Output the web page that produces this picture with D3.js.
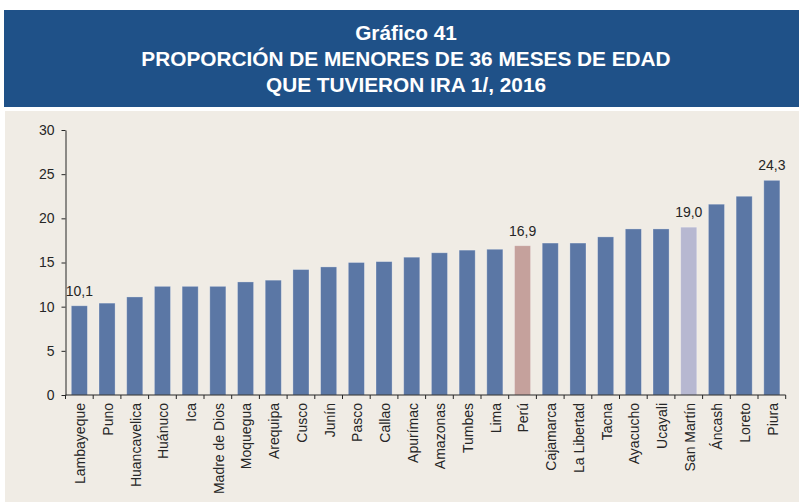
<!DOCTYPE html>
<html>
<head>
<meta charset="utf-8">
<script src="https://cdn.jsdelivr.net/npm/d3@7/dist/d3.min.js"></script>
<style>
  html, body { margin: 0; padding: 0; background: #ffffff; }
  svg { display: block; font-family: "Liberation Sans", Arial, sans-serif; }
</style>
</head>
<body>
<svg id="chart" width="799" height="503"></svg>
<script>
// Regiones ordenadas de menor a mayor proporción (%)
const regiones = ["Lambayeque", "Puno", "Huancavelica", "Huánuco", "Ica", "Madre de Dios",
  "Moquegua", "Arequipa", "Cusco", "Junín", "Pasco", "Callao", "Apurímac", "Amazonas",
  "Tumbes", "Lima", "Perú", "Cajamarca", "La Libertad", "Tacna", "Ayacucho", "Ucayali",
  "San Martín", "Áncash", "Loreto", "Piura"];
const valores = [10.1, 10.4, 11.1, 12.3, 12.3, 12.3, 12.8, 13.0, 14.2, 14.5, 15.0, 15.1,
  15.6, 16.1, 16.4, 16.5, 16.9, 17.2, 17.2, 17.9, 18.8, 18.8, 19.0, 21.6, 22.5, 24.3];
const etiquetadas = ["Lambayeque", "Perú", "San Martín", "Piura"];
const yTicks = [0, 5, 10, 15, 20, 25, 30];
const titulo = ["Gráfico 41", "PROPORCIÓN DE MENORES DE 36 MESES DE EDAD", "QUE TUVIERON IRA 1/, 2016"];

const data = regiones.map((r, i) => ({ region: r, valor: valores[i] }));

const svg = d3.select("#chart");

// Franja del título
svg.append("rect").attr("x", 4).attr("y", 10).attr("width", 795).attr("height", 97)
  .attr("fill", "#1f5188");
svg.append("g").selectAll("text").data(titulo).join("text")
  .attr("x", 406).attr("y", (d, i) => 40 + i * 26.2)
  .attr("text-anchor", "middle")
  .attr("fill", "#ffffff").attr("font-weight", "bold").attr("font-size", "20.8px")
  .text(d => d);

// Panel del gráfico
svg.append("rect").attr("x", 5).attr("y", 111).attr("width", 794).attr("height", 391)
  .attr("fill", "#f0ece5");

const x0 = 65.5, x1 = 785.7, y0 = 395, y1 = 130;
const x = d3.scaleBand().domain(regiones).range([x0, x1]).paddingInner(0.42).paddingOuter(0.21);
const y = d3.scaleLinear().domain([0, 30]).range([y0, y1]);

const colorDe = r => r === "Perú" ? "#c5a19c" : r === "San Martín" ? "#b7b8d1" : "#5b77a5";

// Barras
svg.append("g").selectAll("rect").data(data).join("rect")
  .attr("x", d => x(d.region))
  .attr("y", d => y(d.valor))
  .attr("width", x.bandwidth())
  .attr("height", d => y(0) - y(d.valor))
  .attr("fill", d => colorDe(d.region))
  .attr("stroke", "rgba(255,255,255,0.35)").attr("stroke-width", 0.8);

// Etiquetas de valor
svg.append("g").selectAll("text").data(data.filter(d => etiquetadas.includes(d.region))).join("text")
  .attr("x", d => x(d.region) + x.bandwidth() / 2)
  .attr("y", d => y(d.valor) - 10)
  .attr("text-anchor", "middle").attr("font-size", "14px").attr("fill", "#262626")
  .text(d => d.valor.toFixed(1).replace(".", ","));

// Eje Y
const yAxis = svg.append("g").attr("transform", `translate(${x0},0)`)
  .call(d3.axisLeft(y).tickValues(yTicks).tickSize(4).tickPadding(7).tickSizeOuter(0));
yAxis.select(".domain").attr("stroke", "#262626");
yAxis.selectAll(".tick line").attr("stroke", "#262626");
yAxis.selectAll(".tick text").attr("font-size", "14px").attr("fill", "#262626")
  .attr("font-family", "Liberation Sans, Arial, sans-serif");

// Eje X: marcas en los límites de cada categoría
const step = x.step();
const bordes = d3.range(regiones.length + 1).map(i => x0 + i * step);
const xAxis = svg.append("g");
xAxis.append("line").attr("x1", x0).attr("x2", x1).attr("y1", y0).attr("y2", y0)
  .attr("stroke", "#262626");
xAxis.selectAll("line.tk").data(bordes).join("line").attr("class", "tk")
  .attr("x1", d => d).attr("x2", d => d).attr("y1", y0).attr("y2", y0 + 4)
  .attr("stroke", "#262626");
xAxis.selectAll("text").data(regiones).join("text")
  .attr("transform", d => `translate(${x(d) + x.bandwidth() / 2},${y0 + 8}) rotate(-90)`)
  .attr("text-anchor", "end").attr("dy", "0.42em")
  .attr("font-size", "14px").attr("fill", "#262626")
  .text(d => d);
</script>
</body>
</html>
